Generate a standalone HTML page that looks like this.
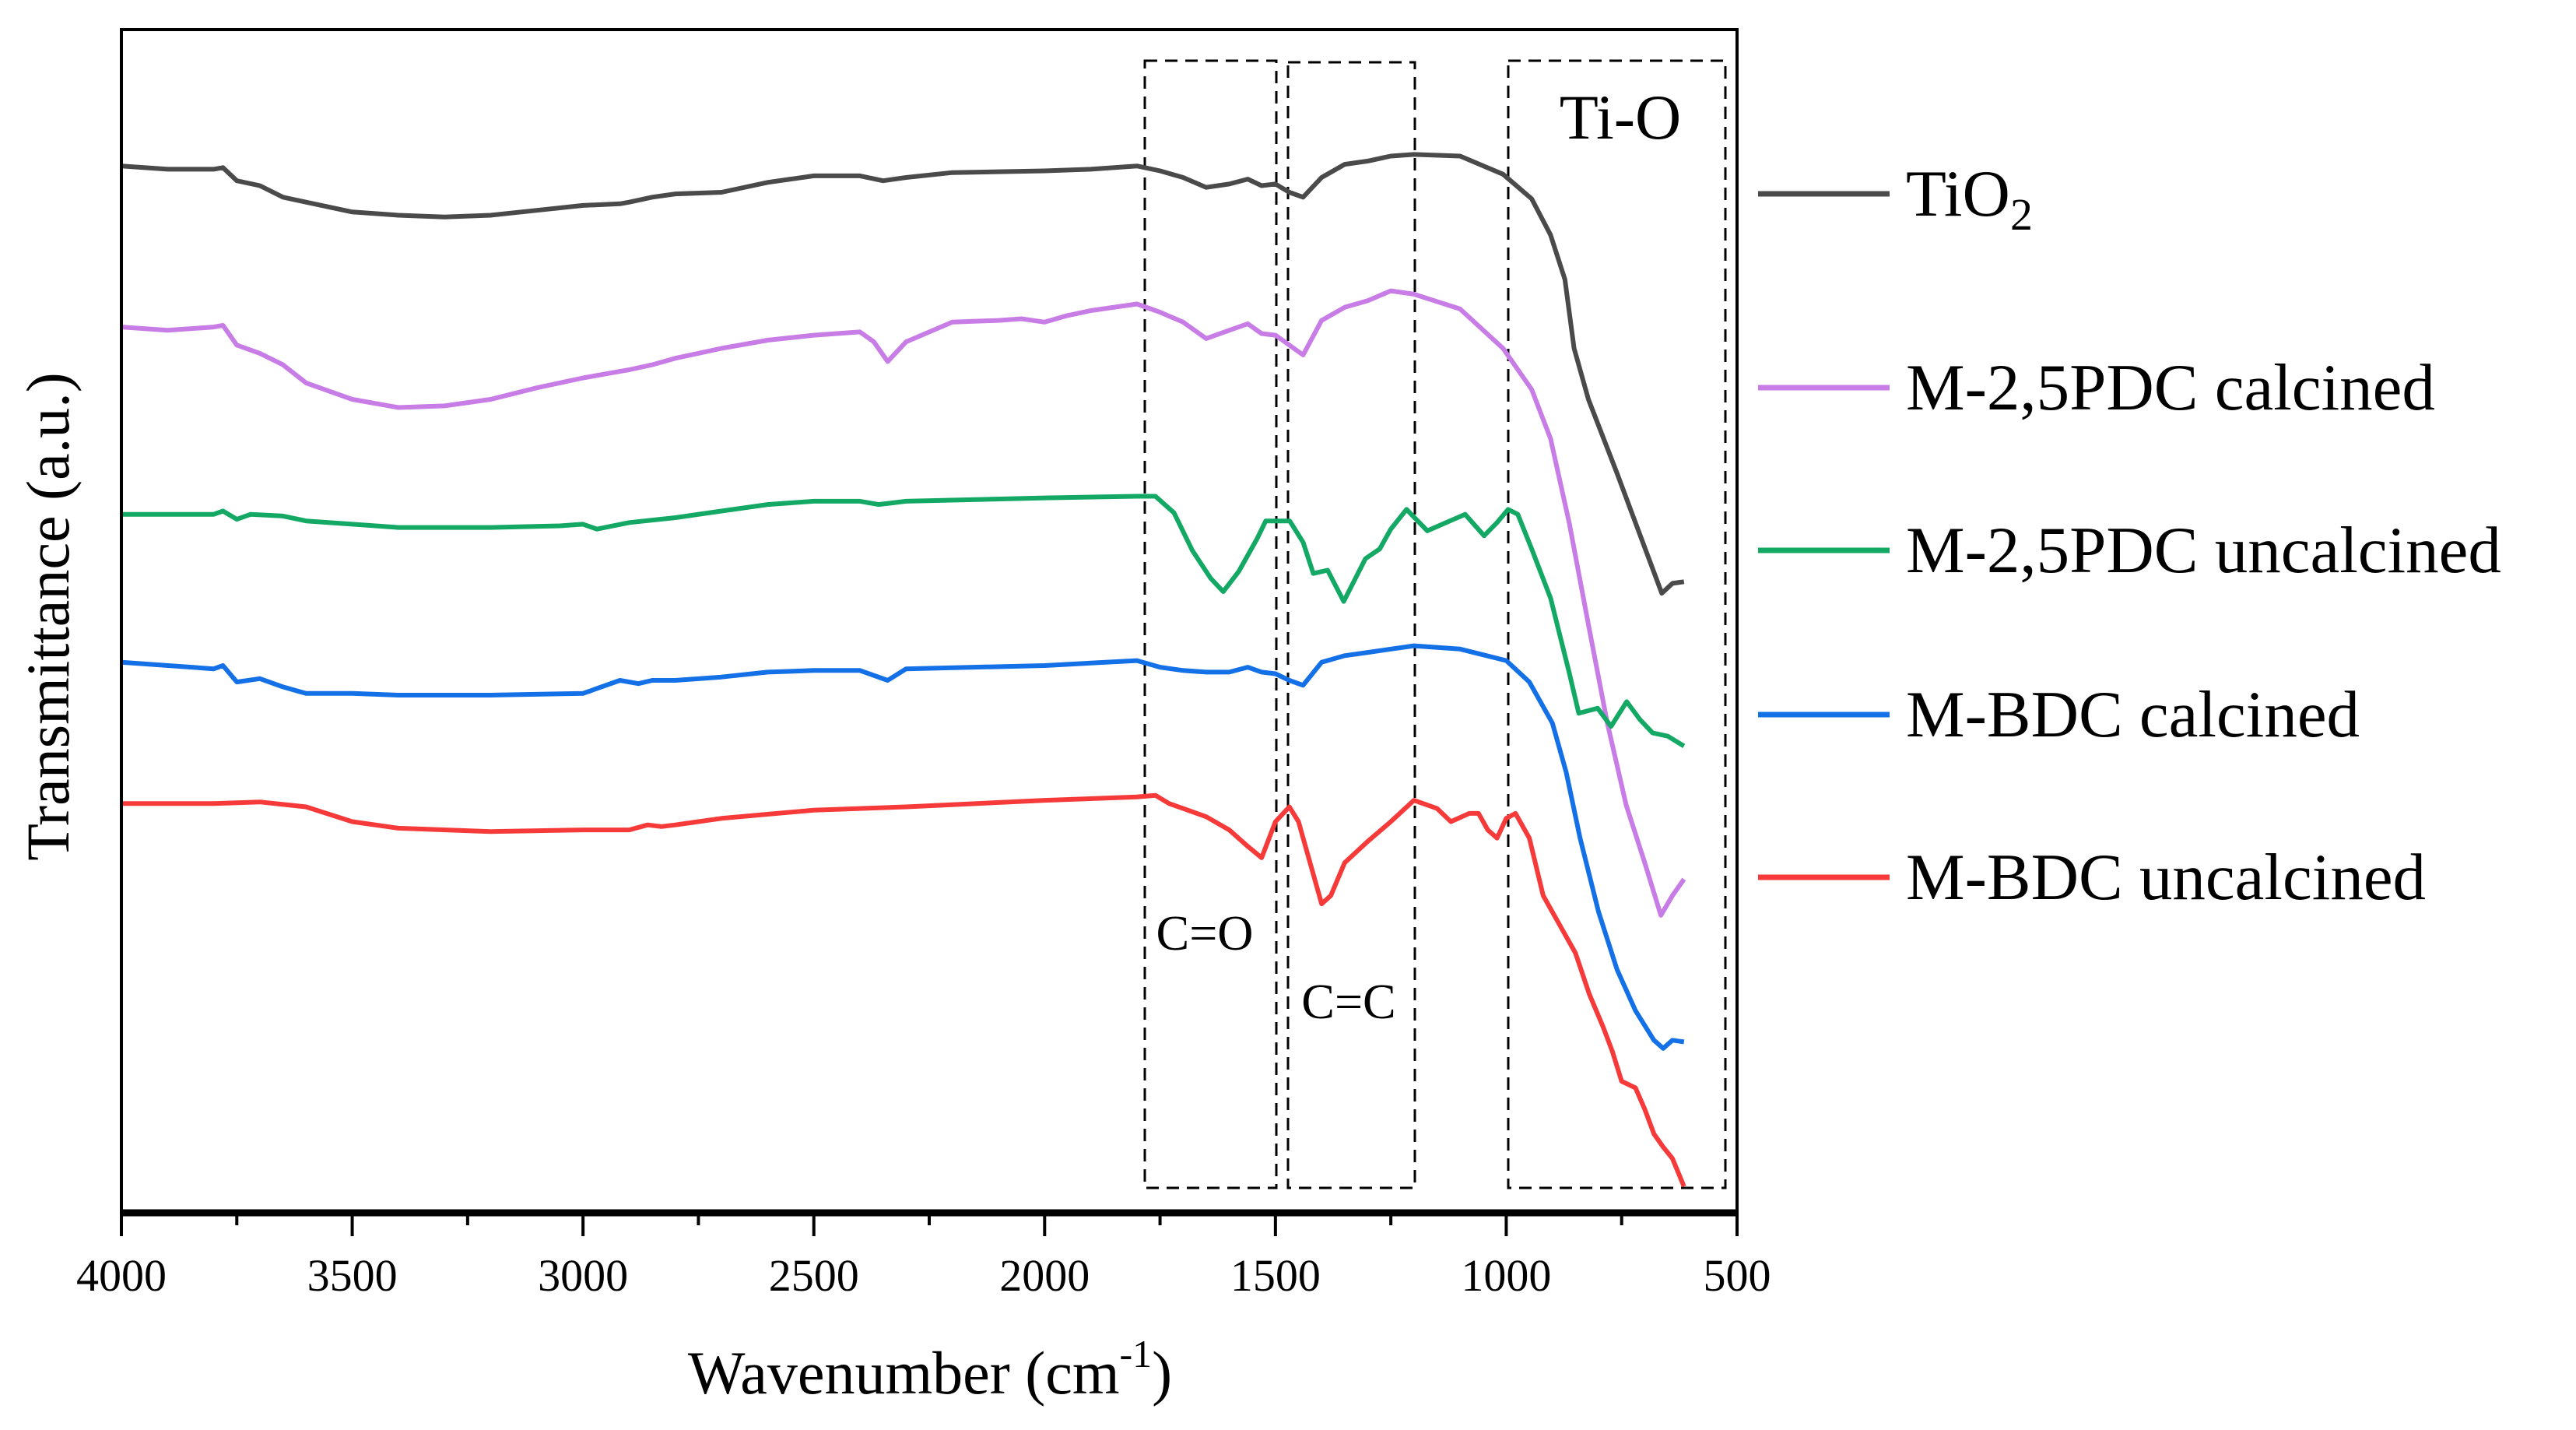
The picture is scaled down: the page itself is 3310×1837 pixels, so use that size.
<!DOCTYPE html>
<html><head><meta charset="utf-8"><style>
html,body{margin:0;padding:0;background:#fff;}
svg{display:block;font-family:"Liberation Serif",serif;}
</style></head><body>
<svg id="chart" width="3310" height="1837" viewBox="0 0 3310 1837" xmlns="http://www.w3.org/2000/svg">
<g id="boxes"></g>
<g id="series"></g>
<g id="axes"></g>
<g id="legend"></g>
<text x="0" y="0" transform="translate(88,792) rotate(-90)" font-size="78" text-anchor="middle">Transmittance (a.u.)</text>
<text x="1195" y="1790" font-size="78" text-anchor="middle">Wavenumber (cm<tspan font-size="50" dy="-34">-1</tspan><tspan dy="34">)</tspan></text>
<text x="2082" y="178" font-size="82" text-anchor="middle">Ti-O</text>
<text x="1548" y="1220" font-size="64" text-anchor="middle">C=O</text>
<text x="1733" y="1308" font-size="64" text-anchor="middle">C=C</text>
</svg>
<script>
const xTicks=[4000,3500,3000,2500,2000,1500,1000,500];
const names=["TiO2","M-2,5PDC calcined","M-2,5PDC uncalcined","M-BDC calcined","M-BDC uncalcined"];
const colors=["#4a4a4a","#c77ce6","#14a865","#1470e6","#f63a3a"];
const waveTiO2=[4000,3900,3800,3780,3750,3700,3650,3600,3500,3400,3300,3200,3100,3000,2920,2900,2850,2800,2700,2600,2500,2400,2350,2300,2200,2000,1900,1800,1750,1700,1650,1600,1560,1530,1500,1470,1440,1400,1350,1300,1250,1200,1100,1007,945,904,873,853,822,760,699,663,640,615];
const yTiO2=[101,103,103,102,110,113,120,123,129,131,132,131,128,125,124,123,120,118,117,111,107,107,110,108,105,104,103,101,104,108,114,112,109,113,112,117,120,108,100,98,95,94,95,106,121,143,170,212,243,288,334,361,355,354];
const wavePDCc=[4000,3900,3800,3780,3750,3700,3650,3600,3500,3400,3300,3200,3100,3000,2920,2900,2850,2800,2700,2600,2500,2400,2370,2340,2300,2200,2100,2050,2000,1950,1900,1800,1750,1700,1650,1600,1560,1530,1500,1470,1440,1400,1350,1300,1250,1200,1100,1007,945,904,863,822,781,740,700,665,640,615];
const yPDCc=[199,201,199,198,210,215,222,233,243,248,247,243,236,230,226,225,222,218,212,207,204,202,208,220,208,196,195,194,196,192,189,185,190,196,206,201,197,203,204,210,216,195,187,183,177,179,188,212,237,267,319,380,440,490,525,557,545,535];
const wavePDCu=[4000,3800,3780,3750,3720,3650,3600,3500,3400,3200,3050,3000,2970,2900,2800,2700,2600,2500,2400,2360,2300,2000,1800,1760,1720,1680,1640,1613,1580,1540,1521,1469,1440,1418,1387,1352,1305,1274,1250,1216,1171,1130,1089,1048,1020,996,975,945,904,863,843,802,773,739,710,683,650,615];
const yPDCu=[313,313,311,316,313,314,317,319,321,321,320,319,322,318,315,311,307,305,305,307,305,303,302,302,312,335,352,360,348,328,317,317,330,349,347,366,340,334,322,310,323,318,313,326,318,310,313,334,364,410,434,431,442,427,438,446,448,454];
const waveBDCc=[4000,3800,3780,3750,3700,3650,3600,3500,3400,3200,3000,2920,2880,2850,2800,2700,2600,2500,2400,2340,2300,2000,1800,1750,1700,1650,1600,1560,1530,1500,1470,1440,1400,1350,1300,1250,1200,1100,1000,950,900,870,840,800,760,720,680,660,640,615];
const yBDCc=[403,407,405,415,413,418,422,422,423,423,422,414,416,414,414,412,409,408,408,414,407,405,402,406,408,409,409,406,409,410,414,417,403,399,397,395,393,395,402,415,440,470,510,555,590,615,633,638,633,634];
const waveBDCu=[4000,3800,3700,3600,3500,3400,3200,3000,2900,2860,2830,2800,2700,2500,2300,2000,1800,1760,1730,1700,1650,1600,1560,1530,1500,1470,1450,1420,1400,1380,1350,1300,1250,1200,1150,1120,1080,1060,1040,1020,1000,980,950,920,880,850,820,790,770,750,720,700,680,660,640,615];
const yBDCu=[489,489,488,491,500,504,506,505,505,502,503,502,498,493,491,487,485,484,489,492,497,505,515,522,500,491,500,530,550,545,525,512,500,487,492,500,495,495,505,510,498,495,510,545,565,580,605,625,640,658,662,675,690,698,705,722];
const allWaves=[waveTiO2,wavePDCc,wavePDCu,waveBDCc,waveBDCu];
const allY=[yTiO2,yPDCc,yPDCu,yBDCc,yBDCu];
const ns="http://www.w3.org/2000/svg";
const X0=156,X1=2232,YT=38,YB=1558;
function xs(w){return X0+(4000-w)/3500*(X1-X0);}
function ys(v){return v*2.111;}
function mk(tag,attrs,parent){const e=document.createElementNS(ns,tag);for(const k in attrs)e.setAttribute(k,attrs[k]);parent.appendChild(e);return e;}
const sg=document.getElementById('series');
allWaves.forEach((wv,i)=>{
  const d=wv.map((w,j)=>(j?'L':'M')+xs(w).toFixed(1)+','+ys(allY[i][j]).toFixed(1)).join(' ');
  const p=mk('path',{d:d,fill:'none',stroke:colors[i],'stroke-width':6,'stroke-linejoin':'round'},sg);
  
  
});
const ax=document.getElementById('axes');
const fr=mk('rect',{x:X0,y:YT,width:X1-X0,height:YB-YT,fill:'none',stroke:'#000','stroke-width':4},ax);


mk('line',{x1:X0-2,y1:YB,x2:X1+2,y2:YB,stroke:'#000','stroke-width':9},ax);
for(let w=4000;w>=500;w-=250){
  const major=w%500===0;
  const t=mk('line',{x1:xs(w),y1:YB,x2:xs(w),y2:YB+(major?30:16),stroke:'#000','stroke-width':4},ax);
  
  
}
xTicks.forEach(w=>{
  const t=mk('text',{x:xs(w),y:1658,'font-size':58,'text-anchor':'middle'},ax);
  t.textContent=w;
  
  
});
const bx=document.getElementById('boxes');
[[1471,1640,78,1526],[1655,1818,80,1526],[1938,2217,78,1526]].forEach((b,i)=>{
  const r=mk('rect',{x:b[0],y:b[2],width:b[1]-b[0],height:b[3]-b[2],fill:'none',stroke:'#000','stroke-width':3,'stroke-dasharray':'16 10'},bx);
  
  
});
const lg=document.getElementById('legend');
const rows=[249,498,707,918,1127];
names.forEach((n,i)=>{
  const l=mk('line',{x1:2259,y1:rows[i],x2:2428,y2:rows[i],stroke:colors[i],'stroke-width':7},lg);
  
  
  const t=mk('text',{x:2449,y:rows[i]+28,'font-size':85},lg);
  if(i===0){t.innerHTML='TiO<tspan font-size="58" dy="18">2</tspan>';}else t.textContent=n;
  
  
});
</script>
</body></html>
